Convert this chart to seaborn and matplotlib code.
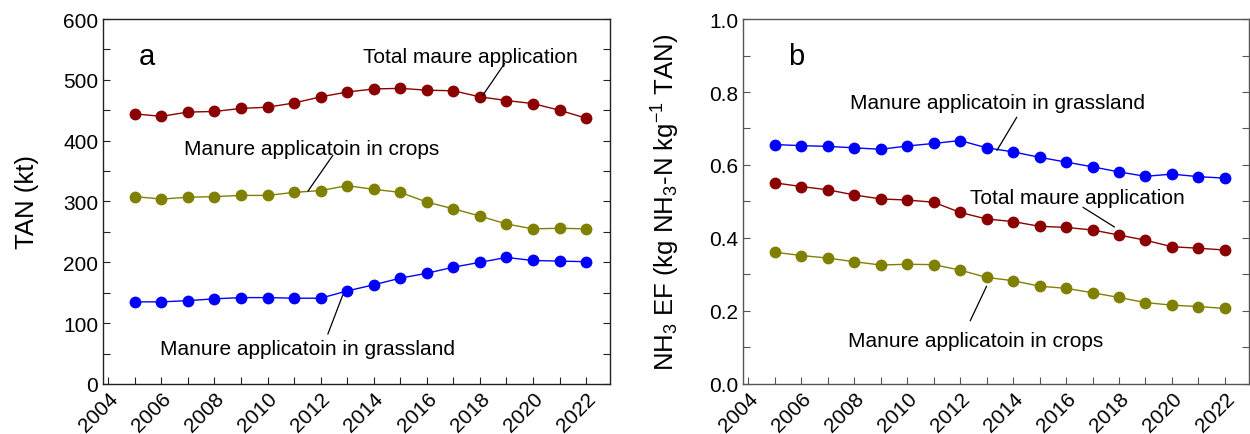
import numpy as np
import pandas as pd
import matplotlib
matplotlib.use("Agg")
import matplotlib.pyplot as plt
import seaborn as sns
from matplotlib.ticker import MultipleLocator

years = list(range(2005, 2023))

# Panel a: TAN (kt)
tan_total = [444, 440, 447, 448, 453, 455, 462, 472, 480, 485, 486, 483, 482, 472, 466, 461, 450, 437]
tan_crops = [308, 304, 307, 308, 310, 310, 315, 318, 326, 320, 315, 299, 288, 276, 263, 255, 256, 255]
tan_grass = [135, 135, 137, 140, 142, 142, 141, 141, 153, 163, 174, 182, 192, 200, 208, 203, 202, 201]

# Panel b: NH3 EF
ef_total = [0.551, 0.541, 0.532, 0.518, 0.507, 0.504, 0.498, 0.470, 0.452, 0.445, 0.432, 0.429, 0.422, 0.408, 0.394, 0.376, 0.372, 0.367]
ef_crops = [0.361, 0.352, 0.345, 0.335, 0.326, 0.328, 0.327, 0.312, 0.292, 0.283, 0.268, 0.262, 0.250, 0.237, 0.223, 0.216, 0.212, 0.207]
ef_grass = [0.656, 0.653, 0.651, 0.647, 0.643, 0.652, 0.659, 0.667, 0.647, 0.636, 0.621, 0.608, 0.595, 0.581, 0.569, 0.575, 0.568, 0.564]

lbl_total = "Total maure application"
lbl_crops = "Manure applicatoin in crops"
lbl_grass = "Manure applicatoin in grassland"

colors = {"total": "#8B0000", "crops": "#808000", "grass": "#0000FF"}

sns.set_style("ticks")
plt.rcParams['font.family'] = ['Liberation Sans', 'DejaVu Sans']
plt.rcParams['mathtext.fontset'] = 'custom'
plt.rcParams['mathtext.rm'] = 'Liberation Sans'
plt.rcParams['mathtext.it'] = 'Liberation Sans'
plt.rcParams['text.color'] = 'black'
plt.rcParams['axes.labelcolor'] = 'black'
plt.rcParams['xtick.labelcolor'] = 'black'
plt.rcParams['ytick.labelcolor'] = 'black'

fig = plt.figure(figsize=(12.5, 4.35), dpi=100)
ax1 = fig.add_axes([0.0824, 0.115, 0.4056, 0.839])
ax2 = fig.add_axes([0.5944, 0.115, 0.4046, 0.839])

def draw(ax, series, ylim, ymaj, ymin, spine_color):
    for vals, key in series:
        df = pd.DataFrame({"year": years, "v": vals})
        sns.lineplot(data=df, x="year", y="v", ax=ax, color=colors[key], marker="o",
                     markersize=8.5, markeredgewidth=0, linewidth=1.0)
    ax.set_xlim(2003.8, 2022.9)
    ax.set_ylim(*ylim)
    ax.xaxis.set_major_locator(MultipleLocator(2))
    ax.xaxis.set_minor_locator(MultipleLocator(1))
    ax.yaxis.set_major_locator(MultipleLocator(ymaj))
    ax.yaxis.set_minor_locator(MultipleLocator(ymin))
    ax.tick_params(axis="y", which="both", direction="in", right=True, left=True,
                   length=5, width=0.8, labelsize=15, color=spine_color, labelcolor="black")
    ax.tick_params(axis="x", which="both", direction="in", length=5, width=0.8,
                   labelsize=15, color=spine_color, top=False, labelcolor="black")
    for lab in ax.get_xticklabels():
        lab.set_rotation(45)
        lab.set_ha("right")
        lab.set_rotation_mode("anchor")
    for s in ax.spines.values():
        s.set_visible(True)
        s.set_color(spine_color)
        s.set_linewidth(1.0)
    ax.set_xlabel("")

draw(ax1, [(tan_total, "total"), (tan_crops, "crops"), (tan_grass, "grass")],
     (0, 600), 100, 50, "#222222")
draw(ax2, [(ef_grass, "grass"), (ef_total, "total"), (ef_crops, "crops")],
     (0, 1.0), 0.2, 0.1, "#555555")

ax1.set_ylabel("TAN (kt)", fontsize=18.5, labelpad=17)
ax2.set_ylabel("NH$_3$ EF (kg NH$_3$-N kg$^{-1}$ TAN)", fontsize=18.5, labelpad=19)
ax2.yaxis.set_major_formatter(matplotlib.ticker.FormatStrFormatter("%.1f"))

ax1.text(0.07, 0.90, "a", transform=ax1.transAxes, fontsize=21, va="center")
ax2.text(0.09, 0.90, "b", transform=ax2.transAxes, fontsize=21, va="center")

def note(ax, text, tx, ty, x0, y0, x1, y1):
    ax.text(tx, ty, text, fontsize=15, ha="center", va="baseline")
    ax.plot([x0, x1], [y0, y1], color="black", linewidth=0.9)

note(ax1, lbl_total, 2017.63, 529, 2018.93, 527, 2018.1, 474)
note(ax1, lbl_crops, 2011.65, 378, 2012.46, 376, 2011.52, 317)
note(ax1, lbl_grass, 2011.5, 50, 2012.27, 82, 2012.83, 146)

note(ax2, lbl_grass, 2013.4, 0.755, 2014.14, 0.731, 2013.39, 0.640)
note(ax2, lbl_total, 2016.43, 0.496, 2016.64, 0.484, 2017.83, 0.430)
note(ax2, lbl_crops, 2012.58, 0.105, 2012.38, 0.173, 2013.0, 0.268)

fig.savefig("out.png", dpi=100)
